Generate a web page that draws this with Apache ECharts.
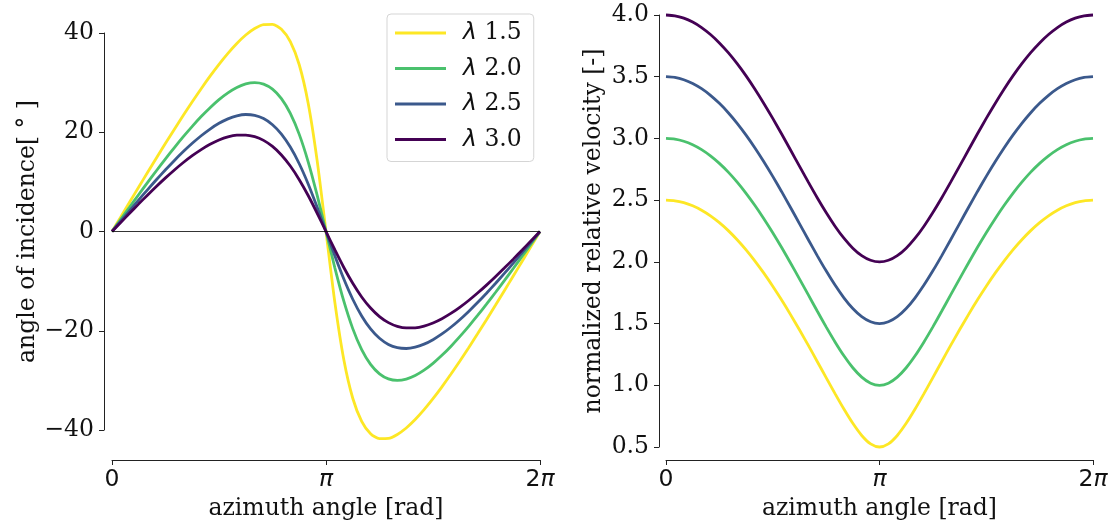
<!DOCTYPE html>
<html>
<head>
<meta charset="utf-8">
<script src="https://cdn.jsdelivr.net/npm/echarts@6/dist/echarts.min.js"></script>
<style>
  html, body { margin: 0; padding: 0; background: #fff; }
  #chart { width: 1116px; height: 530px; }
</style>
</head>
<body>
<div id="chart"></div>
<script>
// azimuth angle, in units of pi (7.5 degree steps)
const azimuth = [0, 0.0417, 0.0833, 0.125, 0.1667, 0.2083, 0.25, 0.2917, 0.3333, 0.375, 0.4167, 0.4583, 0.5,
  0.5417, 0.5833, 0.625, 0.6667, 0.7083, 0.75, 0.7917, 0.8333, 0.875, 0.9167, 0.9583, 1,
  1.0417, 1.0833, 1.125, 1.1667, 1.2083, 1.25, 1.2917, 1.3333, 1.375, 1.4167, 1.4583, 1.5,
  1.5417, 1.5833, 1.625, 1.6667, 1.7083, 1.75, 1.7917, 1.8333, 1.875, 1.9167, 1.9583, 2]

const lambdas = ['λ 1.5', 'λ 2.0', 'λ 2.5', 'λ 3.0']
const colors = ['#fde725', '#4ac16d', '#3b598c', '#440154']

// angle of incidence [deg]
const incidence15 = [0, 3.00, 5.99, 8.97, 11.93, 14.87, 17.76, 20.62, 23.41, 26.14, 28.78, 31.30, 33.69,
  35.90, 37.89, 39.59, 40.89, 41.68, 41.73, 40.75, 38.26, 33.60, 25.85, 14.39, 0,
  -14.39, -25.85, -33.60, -38.26, -40.75, -41.73, -41.68, -40.89, -39.59, -37.89, -35.90, -33.69,
  -31.30, -28.78, -26.14, -23.41, -20.62, -17.76, -14.87, -11.93, -8.97, -5.99, -3.00, 0]
const incidence20 = [0, 2.50, 4.99, 7.46, 9.90, 12.29, 14.64, 16.92, 19.11, 21.19, 23.16, 24.95, 26.57,
  27.94, 29.02, 29.74, 30.00, 29.70, 28.68, 26.77, 23.80, 19.57, 14.05, 7.37, 0,
  -7.37, -14.05, -19.57, -23.80, -26.77, -28.68, -29.70, -30.00, -29.74, -29.02, -27.94, -26.57,
  -24.95, -23.16, -21.19, -19.11, -16.92, -14.64, -12.29, -9.90, -7.46, -4.99, -2.50, 0]
const incidence25 = [0, 2.14, 4.27, 6.38, 8.45, 10.47, 12.43, 14.32, 16.10, 17.77, 19.30, 20.65, 21.80,
  22.70, 23.31, 23.58, 23.41, 22.76, 21.52, 19.63, 17.01, 13.65, 9.58, 4.94, 0,
  -4.94, -9.58, -13.65, -17.01, -19.63, -21.52, -22.76, -23.41, -23.58, -23.31, -22.70, -21.80,
  -20.65, -19.30, -17.77, -16.10, -14.32, -12.43, -10.47, -8.45, -6.38, -4.27, -2.14, 0]
const incidence30 = [0, 1.87, 3.73, 5.57, 7.37, 9.12, 10.80, 12.40, 13.90, 15.28, 16.51, 17.57, 18.43,
  19.06, 19.41, 19.44, 19.11, 18.36, 17.14, 15.42, 13.19, 10.44, 7.25, 3.72, 0,
  -3.72, -7.25, -10.44, -13.19, -15.42, -17.14, -18.36, -19.11, -19.44, -19.41, -19.06, -18.43,
  -17.57, -16.51, -15.28, -13.90, -12.40, -10.80, -9.12, -7.37, -5.57, -3.73, -1.87, 0]

// normalized relative velocity [-]
const velocity15 = [2.5, 2.4948, 2.4795, 2.4539, 2.4183, 2.3728, 2.3176, 2.2531, 2.1794, 2.0972, 2.0066, 1.9083, 1.8028,
  1.6907, 1.5727, 1.4498, 1.3229, 1.1931, 1.0624, 0.9326, 0.8075, 0.6917, 0.5935, 0.5252, 0.5,
  0.5252, 0.5935, 0.6917, 0.8075, 0.9326, 1.0624, 1.1931, 1.3229, 1.4498, 1.5727, 1.6907, 1.8028,
  1.9083, 2.0066, 2.0972, 2.1794, 2.2531, 2.3176, 2.3728, 2.4183, 2.4539, 2.4795, 2.4948, 2.5]
const velocity20 = [3, 2.9943, 2.9772, 2.9488, 2.9093, 2.8590, 2.7979, 2.7268, 2.6458, 2.5556, 2.4567, 2.3499, 2.2361,
  2.1161, 1.9912, 1.8626, 1.7321, 1.6015, 1.4736, 1.3515, 1.2393, 1.1421, 1.0660, 1.0170, 1,
  1.0170, 1.0660, 1.1421, 1.2393, 1.3515, 1.4736, 1.6015, 1.7321, 1.8626, 1.9912, 2.1161, 2.2361,
  2.3499, 2.4567, 2.5556, 2.6458, 2.7268, 2.7979, 2.8590, 2.9093, 2.9488, 2.9772, 2.9943, 3]
const velocity25 = [3.5, 3.4939, 3.4756, 3.4452, 3.4030, 3.3492, 3.2841, 3.2084, 3.1225, 3.0271, 2.9230, 2.8111, 2.6926,
  2.5686, 2.4405, 2.3101, 2.1794, 2.0509, 1.9273, 1.8119, 1.7088, 1.6219, 1.5558, 1.5142, 1.5,
  1.5142, 1.5558, 1.6219, 1.7088, 1.8119, 1.9273, 2.0509, 2.1794, 2.3101, 2.4405, 2.5686, 2.6926,
  2.8111, 2.9230, 3.0271, 3.1225, 3.2084, 3.2841, 3.3492, 3.4030, 3.4452, 3.4756, 3.4939, 3.5]
const velocity30 = [4, 3.9935, 3.9744, 3.9425, 3.8982, 3.8419, 3.7740, 3.6950, 3.6056, 3.5066, 3.3990, 3.2838, 3.1623,
  3.0359, 2.9064, 2.7756, 2.6458, 2.5194, 2.3995, 2.2890, 2.1918, 2.1111, 2.0505, 2.0128, 2,
  2.0128, 2.0505, 2.1111, 2.1918, 2.2890, 2.3995, 2.5194, 2.6458, 2.7756, 2.9064, 3.0359, 3.1623,
  3.2838, 3.3990, 3.5066, 3.6056, 3.6950, 3.7740, 3.8419, 3.8982, 3.9425, 3.9744, 3.9935, 4]

const incidence = [incidence15, incidence20, incidence25, incidence30]
const velocity = [velocity15, velocity20, velocity25, velocity30]

const xTicks = { 0: '{n|0}', 1: '{p|π}', 2: '{n|2}{p|π}' }
const font = 'DejaVu Serif'
const fs = 23.5
const ink = '#111'
const spine = { show: true, onZero: false, lineStyle: { color: '#222', width: 1 } }
const tick = { show: true, length: 5, lineStyle: { color: '#222', width: 1 } }

const xAxisBase = (gridIndex, offset) => ({
  type: 'value', gridIndex, min: 0, max: 2, interval: 1, offset,
  name: 'azimuth angle [rad]', nameLocation: 'middle', nameGap: 37,
  nameTextStyle: { fontFamily: font, fontSize: fs, color: ink },
  axisLine: spine, axisTick: tick, splitLine: { show: false },
  axisLabel: {
    margin: 8, color: ink, fontSize: fs, fontFamily: 'DejaVu Sans',
    formatter: (v) => xTicks[v] ?? '',
    rich: {
      n: { fontFamily: 'DejaVu Sans', fontSize: fs, color: ink },
      p: { fontFamily: 'DejaVu Sans', fontStyle: 'italic', fontSize: fs, color: ink },
    },
  },
})

const toPoints = (ys) => ys.map((y, i) => [azimuth[i], y])

const lineSeries = (data, idx, axisIndex) => ({
  name: lambdas[idx], type: 'line', xAxisIndex: axisIndex, yAxisIndex: axisIndex,
  data: toPoints(data), smooth: 0.25, showSymbol: false, clip: false,
  lineStyle: { color: colors[idx], width: 2.8 }, itemStyle: { color: colors[idx] },
  emphasis: { disabled: true }, animation: false,
})

const series = []
incidence.forEach((d, i) => series.push(lineSeries(d, i, 0)))
velocity.forEach((d, i) => series.push(lineSeries(d, i, 1)))
// thin zero line on the left panel
series[0].markLine = {
  silent: true, symbol: 'none', label: { show: false },
  lineStyle: { color: '#000', width: 0.8, type: 'solid' },
  data: [{ yAxis: 0 }], animation: false,
}

const option = {
  backgroundColor: '#fff',
  animation: false,
  grid: [
    { left: 112, width: 428, top: 33, height: 397 },
    { left: 666, width: 427, top: 15, height: 432 },
  ],
  xAxis: [xAxisBase(0, 30), xAxisBase(1, 13)],
  yAxis: [
    {
      type: 'value', gridIndex: 0, min: -40, max: 40, interval: 20, offset: 8,
      name: 'angle of incidence[ ° ]', nameLocation: 'middle', nameGap: 64,
      nameTextStyle: { fontFamily: font, fontSize: fs, color: ink },
      axisLine: spine, axisTick: tick, splitLine: { show: false },
      axisLabel: { margin: 10, color: ink, fontSize: fs, fontFamily: font, formatter: (v) => String(v).replace('-', '−') },
    },
    {
      type: 'value', gridIndex: 1, min: 0.5, max: 4, interval: 0.5, offset: 7,
      name: 'normalized relative velocity [-]', nameLocation: 'middle', nameGap: 53,
      nameTextStyle: { fontFamily: font, fontSize: fs, color: ink },
      axisLine: spine, axisTick: tick, splitLine: { show: false },
      axisLabel: { margin: 10, color: ink, fontSize: fs, fontFamily: font, formatter: (v) => v.toFixed(1) },
    },
  ],
  legend: {
    data: lambdas, orient: 'vertical', left: 387, top: 14,
    icon: 'rect', itemWidth: 51, itemHeight: 3, itemGap: 11.5,
    padding: [7, 12, 10, 8],
    backgroundColor: '#fff', borderColor: '#d5d5d5', borderWidth: 1, borderRadius: 4,
    selectedMode: false,
    formatter: (name) => '{g|}{l|λ} ' + name.split(' ')[1],
    textStyle: {
      fontFamily: font, fontSize: fs, color: ink, lineHeight: 24,
      rich: {
        g: { width: 12 },
        l: { fontFamily: 'DejaVu Sans', fontStyle: 'italic', fontSize: fs, color: ink },
      },
    },
  },
  series,
}

const chart = echarts.init(document.getElementById('chart'), null, { renderer: 'canvas' })
chart.setOption(option)
</script>
</body>
</html>
